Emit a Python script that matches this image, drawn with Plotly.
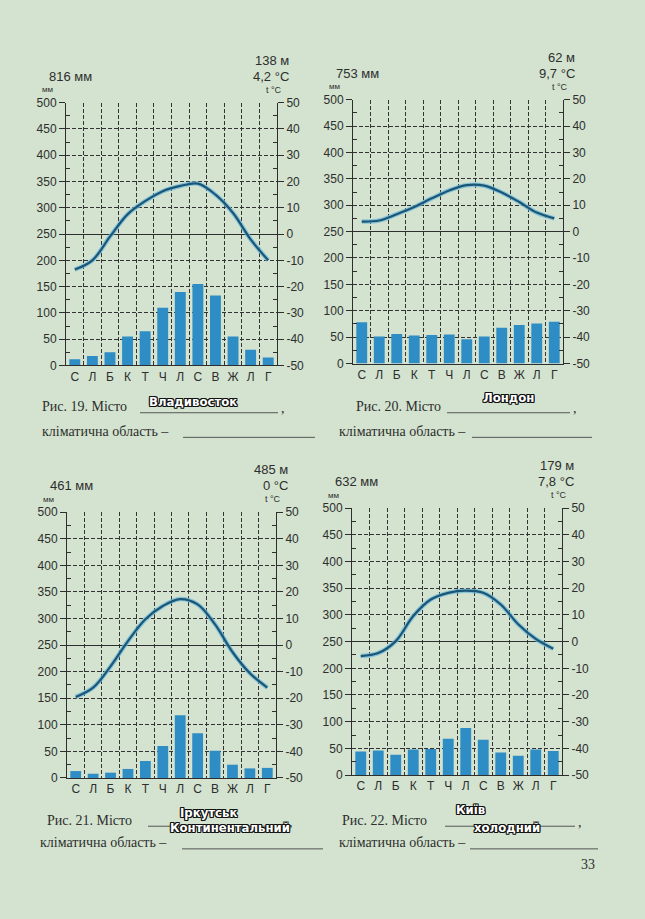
import plotly.graph_objects as go

# page is 645x919; the figure sits inside the default 8px body margin
PAGE_W, PAGE_H = 645, 919
OFF = 8
W, H = PAGE_W - 2 * OFF, PAGE_H - 2 * OFF

months = ["С", "Л", "Б", "К", "Т", "Ч", "Л", "С", "В", "Ж", "Л", "Г"]
month_num = list(range(1, 13))

vlad_precip = [12, 18, 25, 55, 65, 110, 140, 155, 133, 55, 30, 15]
vlad_temp = [-13.5, -10, -1, 7.5, 12.5, 16.3, 18.3, 19.2, 15, 8, -2, -10]
london_precip = [78, 51, 56, 53, 54, 55, 46, 51, 68, 73, 76, 79]
london_temp = [3.8, 4.2, 6.6, 9.3, 12.6, 15.6, 17.6, 17.4, 14.8, 11.2, 7.2, 5]
irk_precip = [13, 8, 10, 17, 32, 60, 118, 84, 51, 25, 18, 19]
irk_temp = [-19.5, -16, -8, 1.5, 9.7, 14.7, 17.3, 15.3, 7.8, -2.6, -10.6, -16]
kyiv_precip = [44, 46, 38, 48, 49, 68, 88, 66, 42, 36, 48, 45]
kyiv_temp = [-5.4, -4.3, 0.2, 9.6, 15.8, 18.3, 19.1, 18.3, 13.9, 6.5, 1, -2.7]

totals = ["816 мм", "753 мм", "461 мм", "632 мм"]
elevations = ["138 м", "62 м", "485 м", "179 м"]
mean_temps = ["4,2 °C", "9,7 °C", "0 °C", "7,8 °C"]
fig_numbers = ["Рис. 19. Місто", "Рис. 20. Місто", "Рис. 21. Місто", "Рис. 22. Місто"]
city_notes = ["Владивосток", "Лондон", "Іркутськ", "Київ"]
region_notes = ["", "", "Континентальний", "холодний"]

precip_ticks = list(range(0, 501, 50))
temp_ticks = list(range(-50, 51, 10))
temp_ticktext = [str(t) for t in temp_ticks]

# plot boxes in page pixels: (left, right, top, bottom)
boxes = [(66, 277, 97, 364), (353, 563, 94, 362), (67, 276, 513, 783), (352, 562, 509, 780)]

BG = "#d3e3cf"
INK = "#2e2e2e"
GRID = "#333333"
BAR = "#2e8dc4"
LINE = "#1c5676"
HALO = "rgba(110,185,220,0.75)"
DASH = "4px,2px"

def px(x):
    return (x - OFF) / W

def py(y):
    return 1 - (y - OFF) / H

fig = go.Figure()
layout = {}
annotations = []
shapes = []

datasets = [(vlad_precip, vlad_temp), (london_precip, london_temp),
            (irk_precip, irk_temp), (kyiv_precip, kyiv_temp)]

tickfont = dict(family="Liberation Sans, Arial", size=12, color=INK)

for i, ((prec, temp), (l, r, t, b)) in enumerate(zip(datasets, boxes)):
    xn = "x" if i == 0 else f"x{i+1}"
    yp = "y" if i == 0 else f"y{2*i+1}"
    yt = f"y{2*i+2}"
    xkey = "xaxis" if i == 0 else f"xaxis{i+1}"
    ypkey = "yaxis" if i == 0 else f"yaxis{2*i+1}"
    ytkey = f"yaxis{2*i+2}"

    fig.add_trace(go.Bar(x=month_num, y=prec, xaxis=xn, yaxis=yp, width=0.62,
                         marker=dict(color=BAR, line=dict(width=0)), showlegend=False))
    fig.add_trace(go.Scatter(x=month_num, y=temp, xaxis=xn, yaxis=yt, mode="lines",
                             line=dict(color=HALO, width=4.5, shape="spline", smoothing=1.0),
                             showlegend=False))
    fig.add_trace(go.Scatter(x=month_num, y=temp, xaxis=xn, yaxis=yt, mode="lines",
                             line=dict(color=LINE, width=2.2, shape="spline", smoothing=1.0),
                             showlegend=False))

    layout[xkey] = dict(domain=[px(l), px(r)], anchor=yp, range=[0.5, 12.5],
                        tickmode="array", tickvals=month_num, ticktext=months,
                        ticks="", showline=True, linecolor=INK, linewidth=1,
                        showgrid=False, zeroline=False, tickfont=tickfont,
                        minor=dict(tickmode="array", tickvals=[k + 0.5 for k in range(1, 12)],
                                   showgrid=True, gridcolor=GRID, griddash=DASH,
                                   gridwidth=1, ticks=""),
                        fixedrange=True)
    layout[ypkey] = dict(domain=[py(b), py(t)], anchor=xn, range=[0, 500],
                         tickmode="array", tickvals=precip_ticks, ticks="outside",
                         ticklen=6, tickcolor=INK, showline=True, linecolor=INK,
                         linewidth=1, showgrid=True, gridcolor=GRID, griddash=DASH,
                         gridwidth=1, zeroline=False, tickfont=tickfont,
                         minor=dict(tickmode="array", tickvals=list(range(25, 500, 50)),
                                    ticks="inside", ticklen=4, tickcolor=INK, showgrid=False),
                         fixedrange=True)
    layout[ytkey] = dict(overlaying=yp, side="right", anchor=xn, range=[-50, 50],
                         tickmode="array", tickvals=temp_ticks, ticktext=temp_ticktext,
                         ticks="outside", ticklen=6, tickcolor=INK, showline=True,
                         linecolor=INK, linewidth=1, showgrid=False, zeroline=True,
                         zerolinecolor=INK, zerolinewidth=1.2, tickfont=tickfont,
                         minor=dict(tickmode="array", tickvals=list(range(-45, 50, 10)),
                                    ticks="inside", ticklen=4, tickcolor=INK, showgrid=False),
                         fixedrange=True)

    # header texts
    annotations.append(dict(text=totals[i], x=px(l - 19), y=py(t - 27), xanchor="left",
                            yanchor="middle", font=dict(family="Liberation Sans", size=13, color=INK)))
    annotations.append(dict(text=elevations[i], x=px(r + 14), y=py(t - 43), xanchor="right",
                            yanchor="middle", font=dict(family="Liberation Sans", size=13, color=INK)))
    annotations.append(dict(text=mean_temps[i], x=px(r + 14), y=py(t - 27), xanchor="right",
                            yanchor="middle", font=dict(family="Liberation Sans", size=13, color=INK)))
    annotations.append(dict(text="мм", x=px(l - 26), y=py(t - 13), xanchor="left",
                            yanchor="middle", font=dict(family="Liberation Sans", size=8, color=INK)))
    annotations.append(dict(text="t °C", x=px(r + 7), y=py(t - 13), xanchor="right",
                            yanchor="middle", font=dict(family="Liberation Sans", size=9, color=INK)))

# captions
serif = dict(family="Liberation Serif, Times New Roman", size=14, color=INK)
caption_rows = [(406, 431), (406, 431), (826, 849), (826, 849)]
caption_x = [(40, 40), (354, 337), (45, 38), (340, 337)]
line1 = [(140, 278), (447, 570), (148, 286), (445, 575)]
line2 = [(183, 315), (472, 592), (182, 323), (470, 598)]
note_pos = [(193, 401), (508, 397), (208, 818), (470, 815)]
region_pos = [(0, 0), (0, 0), (230, 833), (507, 833)]

outline = "1px 1px 0 #111, -1px -1px 0 #111, 1px -1px 0 #111, -1px 1px 0 #111, 0 1px 0 #111, 0 -1px 0 #111, 1px 0 0 #111, -1px 0 0 #111"
note_font = dict(family="DejaVu Sans Condensed, Liberation Sans Narrow", size=13,
                 color="white", weight="bold", shadow=outline)

for i in range(4):
    r1, r2 = caption_rows[i]
    x1, x2 = caption_x[i]
    annotations.append(dict(text=fig_numbers[i], x=px(x1), y=py(r1), xanchor="left",
                            yanchor="middle", font=serif))
    annotations.append(dict(text="кліматична область –", x=px(x2), y=py(r2), xanchor="left",
                            yanchor="middle", font=serif))
    a, bb = line1[i]
    shapes.append(dict(type="line", xref="paper", yref="paper", x0=px(a), x1=px(bb),
                       y0=py(r1 + 6), y1=py(r1 + 6), line=dict(color="#555", width=1)))
    annotations.append(dict(text=",", x=px(bb + 1), y=py(r1 + 2), xanchor="left",
                            yanchor="middle", font=serif))
    a, bb = line2[i]
    shapes.append(dict(type="line", xref="paper", yref="paper", x0=px(a), x1=px(bb),
                       y0=py(r2 + 6), y1=py(r2 + 6), line=dict(color="#555", width=1)))
    nx, ny = note_pos[i]
    annotations.append(dict(text=city_notes[i], x=px(nx), y=py(ny), xanchor="center",
                            yanchor="middle", font=note_font))
    if region_notes[i]:
        rx, ry = region_pos[i]
        annotations.append(dict(text=region_notes[i], x=px(rx), y=py(ry), xanchor="center",
                                yanchor="middle", font=note_font))

annotations.append(dict(text="33", x=px(588), y=py(871), xanchor="center", yanchor="middle",
                        font=dict(family="Liberation Serif", size=14, color=INK)))

for a in annotations:
    a.setdefault("xref", "paper")
    a.setdefault("yref", "paper")
    a.setdefault("showarrow", False)

fig.update_layout(width=W, height=H, autosize=False, margin=dict(l=0, r=0, t=0, b=0),
                  paper_bgcolor=BG, plot_bgcolor=BG, bargap=0.4, showlegend=False,
                  annotations=annotations, shapes=shapes, **layout)

post = ("document.documentElement.style.background='%s';document.body.style.background='%s';" % (BG, BG))

fig.write_html("out.html", config={"displayModeBar": False, "responsive": False}, post_script=post)
